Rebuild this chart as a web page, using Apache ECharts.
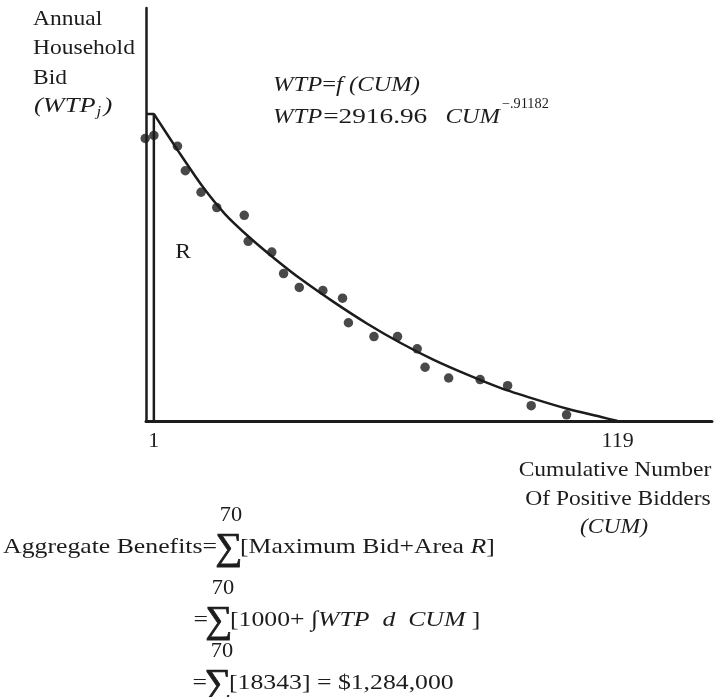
<!DOCTYPE html>
<html><head><meta charset="utf-8">
<script src="https://cdn.jsdelivr.net/npm/echarts@6/dist/echarts.min.js"></script>
<style>html,body{margin:0;padding:0;background:#fff}#c{width:715px;height:697px}</style>
</head><body><div id="c"></div>
<script>
// ---- data ----
const cumTickValues = [1, 119];
const fitCum = [1, 7.2, 13.3, 19.1, 25.5, 31.9, 38.3, 46.7, 55.4, 63.8, 72.2, 80.9, 89.3, 97.7, 106.4, 114.8, 119];
const fitWtp = [1000, 879, 765, 674, 596, 527, 463, 388, 316, 254, 199, 150, 107, 72, 39, 13, 0];
const bidCum = [-1.2, 1, 7, 9, 13, 17, 24, 25, 31, 34, 38, 44, 49, 50.5, 57, 63, 68, 70, 76, 84, 91, 97, 106];
const bidWtp = [920, 930, 895, 815, 745, 695, 670, 585, 550, 480, 435, 425, 400, 320, 275, 275, 235, 175, 140, 135, 115, 50, 20];
const maxBid = 1000;
const firstBidder = 1;
const xMin = -1, xMax = 143, yMin = 0, yMax = 1345;

const INK = '#1c1c1c';
const FF = '"Liberation Serif","Times New Roman",serif';
const FS = 21, SX = 1.12;
const EFS = 22, ESX = 1.17;

const cv = document.createElement('canvas').getContext('2d');
function w(text, size, italic, sx) {
  cv.font = (italic ? 'italic ' : '') + size + 'px "Liberation Serif"';
  return cv.measureText(text).width * (sx || SX);
}
function T(x, y, text, o) {
  o = o || {};
  const st = {
    text: text, fontFamily: FF, fontSize: o.fs || FS,
    fontStyle: o.it ? 'italic' : 'normal', fill: INK,
    align: o.align || 'left', verticalAlign: 'middle',
    textAlign: o.align || 'left', textVerticalAlign: 'middle'
  };
  if (o.stroke) { st.stroke = INK; st.lineWidth = o.stroke; }
  if (o.rich) st.rich = o.rich;
  return { type: 'text', x: x, y: y, scaleX: o.sx || SX, silent: true, style: st };
}
const richDef = (fs) => ({
  n: { fontFamily: FF, fontSize: fs, fill: INK },
  i: { fontFamily: FF, fontSize: fs, fontStyle: 'italic', fill: INK }
});

const graphics = [];
// y-axis title
graphics.push(T(33, 19, 'Annual'));
graphics.push(T(33, 48, 'Household'));
graphics.push(T(33, 78, 'Bid'));
const wWTP = w('(WTP', 22, true, 1.2);
graphics.push(T(34, 106, '(WTP', { it: true, fs: 22, sx: 1.2 }));
graphics.push(T(34 + wWTP + 1, 112, 'j', { it: true, fs: 14, sx: 1.2 }));
graphics.push(T(34 + wWTP + 8, 106, ')', { it: true, fs: 22, sx: 1.2 }));
// function text
graphics.push(T(273, 85, '{i|WTP}{n|=}{i|f (CUM)}', { rich: richDef(FS), sx: 1.17 }));
const wW = w('WTP', FS, true, 1.17);
graphics.push(T(273, 117, 'WTP', { it: true, sx: 1.17 }));
graphics.push(T(273 + wW + 1, 117, '=2916.96', { sx: 1.3 }));
graphics.push(T(500, 117, 'CUM', { it: true, align: 'right', sx: 1.17 }));
graphics.push(T(502, 104, '\u2212.91182', { fs: 14, sx: 1.02 }));
// area label
graphics.push(T(183, 252, 'R', { align: 'center' }));
// x-axis title
graphics.push(T(615, 470, 'Cumulative Number', { align: 'center' }));
graphics.push(T(618, 499, 'Of Positive Bidders', { align: 'center' }));
graphics.push(T(614, 527, '(CUM)', { align: 'center', it: true }));
// equations
const rows = [
  { y: 547, lhs: 'Aggregate Benefits=', lhsR: 217, sig: 229, top: 231, txtX: 240,
    txt: '{n|[Maximum Bid+Area }{i|R}{n|]}' },
  { y: 620, lhs: '=', lhsR: 208, sig: 219, top: 223, txtX: 230,
    txt: '{n|[1000+ \u222B}{i|WTP  d  CUM }{n|]}' },
  { y: 683, lhs: '=', lhsR: 207, sig: 218, top: 222, txtX: 229,
    txt: '{n|[18343] = $1,284,000}' }
];
rows.forEach(r => {
  graphics.push(T(r.lhsR, r.y, r.lhs, { align: 'right', fs: EFS, sx: ESX }));
  graphics.push(T(r.sig, r.y + 2, '\u2211', { align: 'center', fs: 38, sx: 1.0, stroke: 0.8 }));
  graphics.push(T(r.top, r.y - 31, '70', { align: 'center', fs: 20 }));
  graphics.push(T(r.txtX, r.y, r.txt, { rich: richDef(EFS), sx: ESX }));
});

const chart = echarts.init(document.getElementById('c'), null, { renderer: 'canvas' });
chart.setOption({
  animation: false,
  backgroundColor: '#ffffff',
  grid: { left: 146, right: 3, top: 8, bottom: 276, containLabel: false },
  xAxis: {
    type: 'value', min: xMin, max: xMax,
    axisLine: { show: true, onZero: false, lineStyle: { color: INK, width: 3 } },
    axisTick: { show: false },
    splitLine: { show: false },
    axisLabel: {
      customValues: cumTickValues, margin: 9,
      fontFamily: FF, fontSize: 22, color: INK
    }
  },
  yAxis: {
    type: 'value', min: yMin, max: yMax,
    axisLine: { show: true, onZero: false, lineStyle: { color: INK, width: 2.5 } },
    axisTick: { show: false },
    splitLine: { show: false },
    axisLabel: { show: false }
  },
  series: [
    {
      type: 'line', name: 'fit', smooth: 0.25, symbol: 'none',
      data: fitCum.map((c, i) => [c, fitWtp[i]]),
      lineStyle: { color: INK, width: 2.5 }, z: 3
    },
    {
      type: 'line', name: 'maxBid', symbol: 'none',
      data: [[xMin, maxBid], [firstBidder, maxBid], [firstBidder, 0]],
      lineStyle: { color: INK, width: 2.5 }, z: 3
    },
    {
      type: 'scatter', name: 'bids', clip: false, symbolSize: 9.5,
      data: bidCum.map((c, i) => [c, bidWtp[i]]),
      itemStyle: { color: INK }, z: 4
    }
  ],
  graphic: { elements: graphics }
});
</script>
</body></html>
